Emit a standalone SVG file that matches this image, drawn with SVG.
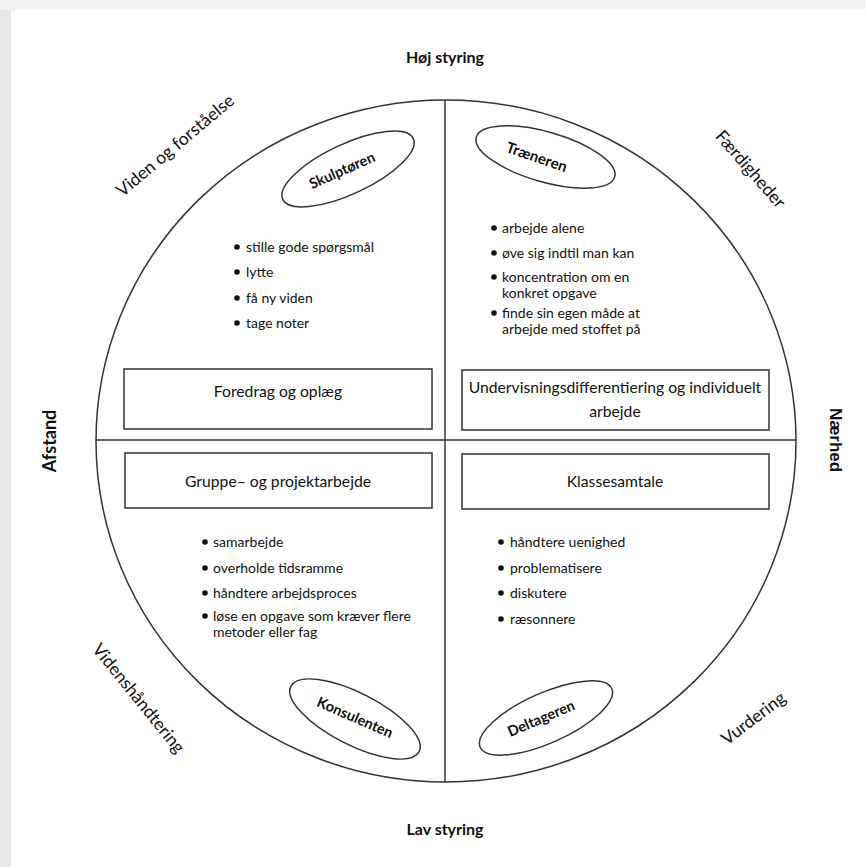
<svg xmlns="http://www.w3.org/2000/svg" width="866" height="867" viewBox="0 0 866 867">
<style>
.ln{stroke:#333;stroke-width:1.5;fill:none}
.box{stroke:#333;stroke-width:1.5;fill:#fff}
.t{font-family:Lato,"Open Sans",sans-serif;font-size:15.7px;fill:#111}
.b{font-family:Lato,"Open Sans",sans-serif;font-size:14px;fill:#111}
.ax{font-family:Lato,"Open Sans",sans-serif;font-size:16px;font-weight:bold;fill:#111}
.dg{font-family:Lato,"Open Sans",sans-serif;font-size:17.5px;fill:#111}
.el{font-family:Lato,"Open Sans",sans-serif;font-size:14.5px;font-weight:bold;fill:#111}
.dot{fill:#111}
</style>
<rect x="0" y="0" width="866" height="867" fill="#f2f2f2"/>
<rect x="0" y="10" width="11" height="857" fill="#e8e8ea"/>
<rect x="11" y="10" width="855" height="857" fill="#fff"/>

<g id="connectors">
<ellipse class="ln" cx="446" cy="441" rx="350" ry="341"/>
<line class="ln" x1="445" y1="100" x2="445" y2="782"/>
<line class="ln" x1="96" y1="440" x2="796" y2="440"/>
</g>

<g id="axis-labels">
<text class="ax" x="445" y="63" text-anchor="middle">Høj styring</text>
<text class="ax" x="445" y="835" text-anchor="middle">Lav styring</text>
<text class="ax" style="font-size:18px" transform="translate(56,441) rotate(-90)" text-anchor="middle">Afstand</text>
<text style="font-family:'Liberation Sans',Arial,sans-serif;font-size:17px;font-weight:bold;fill:#111" transform="translate(830,440) rotate(90)" text-anchor="middle">Nærhed</text>
<text class="dg" transform="translate(179,150) rotate(-40)" text-anchor="middle">Viden og forståelse</text>
<text class="dg" transform="translate(746,173) rotate(49)" text-anchor="middle">Færdigheder</text>
<text class="dg" transform="translate(134,702) rotate(51)" text-anchor="middle">Videnshåndtering</text>
<text class="dg" transform="translate(757,723) rotate(-37)" text-anchor="middle">Vurdering</text>
</g>

<g id="skulptoren">
<ellipse class="ln" cx="348" cy="169" rx="72" ry="25" transform="rotate(-25 348 169)"/>
<text class="el" transform="translate(344,175) rotate(-24)" text-anchor="middle">Skulptøren</text>
</g>
<g id="traeneren">
<ellipse class="ln" cx="545.5" cy="157" rx="72" ry="25" transform="rotate(16 545.5 157)"/>
<text class="el" style="font-size:15px" transform="translate(535,162) rotate(19)" text-anchor="middle">Træneren</text>
</g>
<g id="konsulenten">
<ellipse class="ln" cx="355" cy="719" rx="72" ry="26" transform="rotate(27 355 719)"/>
<text class="el" transform="translate(353,722) rotate(23.5)" text-anchor="middle">Konsulenten</text>
</g>
<g id="deltageren">
<ellipse class="ln" cx="546" cy="718" rx="72" ry="25" transform="rotate(-24 546 718)"/>
<text class="el" transform="translate(543,723) rotate(-23)" text-anchor="middle">Deltageren</text>
</g>

<g id="tl-bullets">
<circle class="dot" cx="237" cy="247" r="2.8"/><text class="b" x="246" y="252">stille gode spørgsmål</text>
<circle class="dot" cx="237" cy="272" r="2.8"/><text class="b" x="246" y="277">lytte</text>
<circle class="dot" cx="237" cy="298" r="2.8"/><text class="b" x="246" y="303">få ny viden</text>
<circle class="dot" cx="237" cy="323" r="2.8"/><text class="b" x="246" y="328">tage noter</text>
</g>
<g id="tr-bullets">
<circle class="dot" cx="494" cy="228" r="2.8"/><text class="b" x="502" y="233">arbejde alene</text>
<circle class="dot" cx="494" cy="253" r="2.8"/><text class="b" x="502" y="258">øve sig indtil man kan</text>
<circle class="dot" cx="494" cy="277" r="2.8"/><text class="b" x="502" y="282">koncentration om en</text>
<text class="b" x="502" y="298">konkret opgave</text>
<circle class="dot" cx="494" cy="313" r="2.8"/><text class="b" x="502" y="318">finde sin egen måde at</text>
<text class="b" x="502" y="334">arbejde med stoffet på</text>
</g>
<g id="bl-bullets">
<circle class="dot" cx="205" cy="542" r="2.8"/><text class="b" x="213" y="547">samarbejde</text>
<circle class="dot" cx="205" cy="568" r="2.8"/><text class="b" x="213" y="573">overholde tidsramme</text>
<circle class="dot" cx="205" cy="593" r="2.8"/><text class="b" x="213" y="598">håndtere arbejdsproces</text>
<circle class="dot" cx="205" cy="616" r="2.8"/><text class="b" x="213" y="621">løse en opgave som kræver flere</text>
<text class="b" x="213" y="637">metoder eller fag</text>
</g>
<g id="br-bullets">
<circle class="dot" cx="501" cy="542" r="2.8"/><text class="b" x="510" y="547">håndtere uenighed</text>
<circle class="dot" cx="501" cy="568" r="2.8"/><text class="b" x="510" y="573">problematisere</text>
<circle class="dot" cx="501" cy="593" r="2.8"/><text class="b" x="510" y="598">diskutere</text>
<circle class="dot" cx="501" cy="619" r="2.8"/><text class="b" x="510" y="624">ræsonnere</text>
</g>

<g id="foredrag">
<rect class="box" x="124" y="369" width="308" height="60"/>
<text class="t" x="278" y="397" text-anchor="middle">Foredrag og oplæg</text>
</g>
<g id="undervisning">
<rect class="box" x="462" y="370" width="307" height="60"/>
<text class="t" x="615" y="393" text-anchor="middle">Undervisningsdifferentiering og individuelt</text>
<text class="t" x="615" y="417" text-anchor="middle">arbejde</text>
</g>
<g id="gruppe">
<rect class="box" x="125" y="453" width="307" height="55"/>
<text class="t" x="278" y="487" text-anchor="middle">Gruppe– og projektarbejde</text>
</g>
<g id="klasse">
<rect class="box" x="462" y="454" width="307" height="55"/>
<text class="t" x="615" y="487" text-anchor="middle">Klassesamtale</text>
</g>
</svg>
